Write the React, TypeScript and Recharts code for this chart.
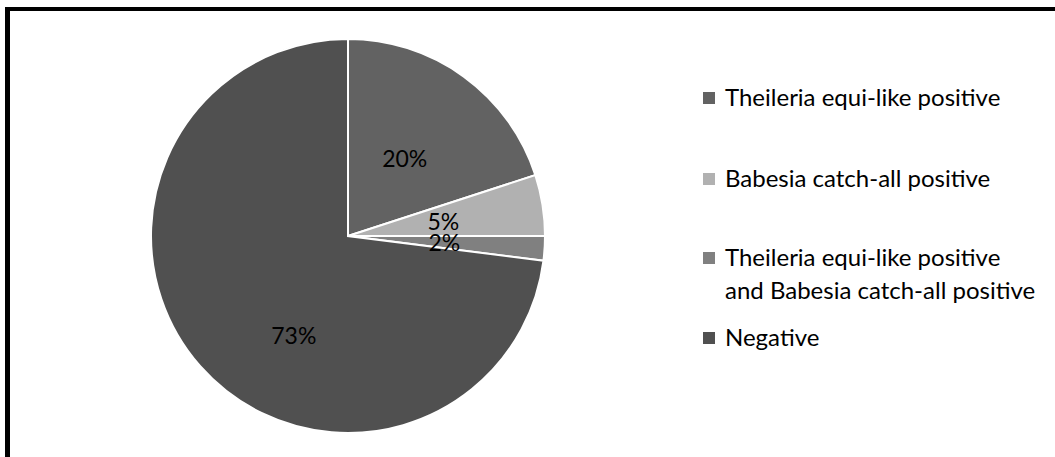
import { PieChart, Pie, Cell, Legend } from 'recharts';

const categories = [
  'Theileria equi-like positive',
  'Babesia catch-all positive',
  'Theileria equi-like positive and Babesia catch-all positive',
  'Negative',
];
const legendLines = [
  ['Theileria equi-like positive'],
  ['Babesia catch-all positive'],
  ['Theileria equi-like positive', 'and Babesia catch-all positive'],
  ['Negative'],
];
const percentages = [20, 5, 2, 73];
const colors = ['#626262', '#b1b1b1', '#808080', '#505050'];

const data = categories.map((name, i) => ({ name, value: percentages[i] }));

const RAD = Math.PI / 180;
const FONT = 'Lato, "Open Sans", sans-serif';

// excel shoves the big slice's label a bit towards the bottom
const renderLabel = (props: any) => {
  const { cx, cy, midAngle, outerRadius, index, value } = props;
  let angle = midAngle;
  let r = outerRadius * 0.49;
  if (index === 3) {
    angle = midAngle + 20;
    r = outerRadius * 0.575;
  }
  const x = cx + r * Math.cos(angle * RAD);
  const y = cy - r * Math.sin(angle * RAD);
  return (
    <text x={x} y={y} textAnchor="middle" dominantBaseline="central" fill="#000" fontSize={23} fontFamily={FONT}>
      {`${value}%`}
    </text>
  );
};

const gaps = [48, 46, 14, 0];

const renderLegend = () => (
  <div style={{ fontFamily: FONT, fontSize: 24, lineHeight: '33px', color: '#000' }}>
    {legendLines.map((lines, i) => (
      <div key={i} style={{ position: 'relative', paddingLeft: 22, marginBottom: gaps[i] }}>
        <span
          style={{ position: 'absolute', left: 0, top: 12, width: 12, height: 12, background: colors[i] }}
        />
        {lines.map((l, j) => (
          <div key={j} style={{ whiteSpace: 'nowrap' }}>{l}</div>
        ))}
      </div>
    ))}
  </div>
);

export default function App() {
  return (
    <div style={{ position: 'absolute', left: 0, top: 0, width: 1055, height: 457, background: '#fff' }}>
      <div style={{ position: 'absolute', left: 5, top: 7, right: 0, height: 4, background: '#000' }} />
      <div style={{ position: 'absolute', left: 5, top: 7, bottom: 0, width: 5, background: '#000' }} />
      <PieChart width={1055} height={457} margin={{ top: 0, right: 0, bottom: 0, left: 0 }}>
        <Pie
          data={data}
          dataKey="value"
          nameKey="name"
          cx={348}
          cy={236}
          outerRadius={197}
          startAngle={90}
          endAngle={-270}
          stroke="#fff"
          strokeWidth={2}
          label={renderLabel}
          labelLine={false}
          isAnimationActive={false}
        >
          {data.map((_, i) => (
            <Cell key={i} fill={colors[i]} />
          ))}
        </Pie>
        <Legend
          layout="vertical"
          content={renderLegend}
          wrapperStyle={{ left: 703, top: 80, width: 340 }}
        />
      </PieChart>
    </div>
  );
}
